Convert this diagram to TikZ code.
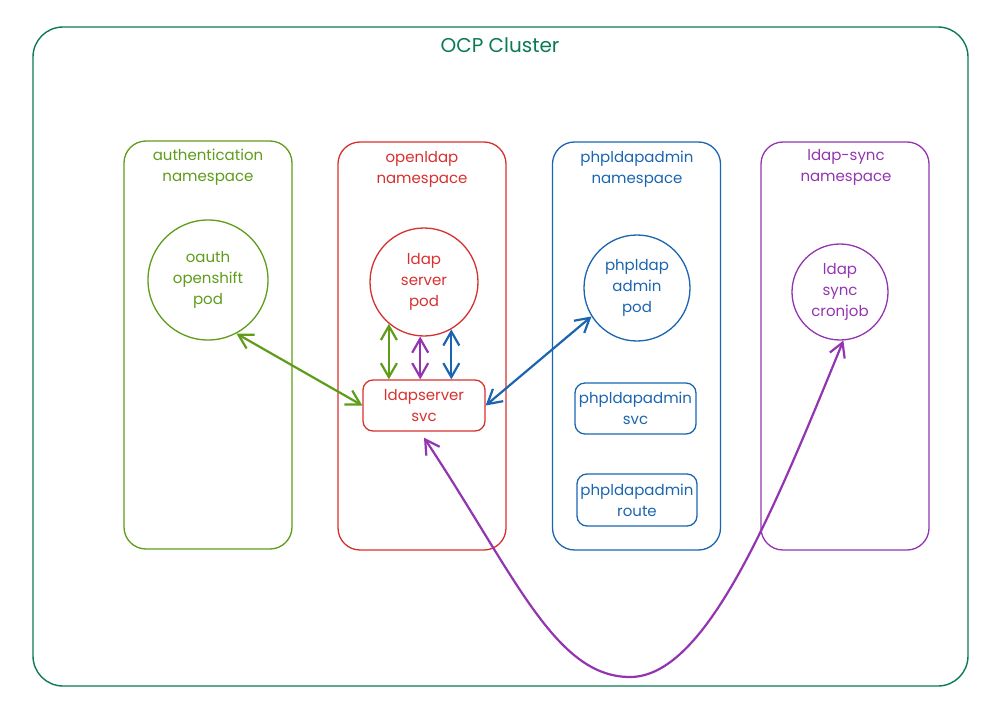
\documentclass[tikz,border=0pt]{standalone}
\usepackage{fontspec}
\setmainfont{Poppins}
\usepackage{tikz}
\usetikzlibrary{positioning}
\usetikzlibrary{arrows.meta}
\definecolor{ocpteal}{HTML}{0B7A56}
\definecolor{authgreen}{HTML}{5E9C1A}
\definecolor{ldapred}{HTML}{D6312F}
\definecolor{adminblue}{HTML}{1B65B0}
\definecolor{syncpurple}{HTML}{9334B0}
\tikzset{
  txt/.style={align=center, font=\fontsize{15}{21}\selectfont},
  nsbox/.style={draw, rounded corners=22pt, minimum width=168pt, minimum height=408pt, line width=1.3pt},
  podcircle/.style={draw, circle, inner sep=0pt, line width=1.3pt, txt},
  svcbox/.style={draw, rounded corners=10pt, minimum width=121pt, minimum height=51pt, inner sep=0pt, line width=1.3pt, txt},
  dblarrow/.style={{Straight Barb[length=14pt,width=16pt]}-{Straight Barb[length=14pt,width=16pt]}, line width=2.2pt}
}

\begin{document}
\begin{tikzpicture}[x=1pt, y=-1pt]

\useasboundingbox (0,0) rectangle (997,709);

% cluster
\node[draw, ocpteal, rounded corners=30pt, minimum width=935pt, minimum height=659pt, line width=1.4pt] (cluster) at (500.5,356.5) {};
\node[ocpteal, font=\fontsize{20}{24}\selectfont] (clustertitle) at (500,45) {OCP Cluster};

%%%namespaces
\node[nsbox, authgreen] (authns) at (208,345) {};
\node[nsbox, ldapred] (ldapns) at (422,346) {};
\node[nsbox, adminblue] (adminns) at (636.5,346) {};
\node[nsbox, syncpurple] (syncns) at (845,346) {};

\node[txt, authgreen] (authtitle) at (208,167) {authentication\\namespace};
\node[txt, ldapred] (ldaptitle) at (422,169) {openldap\\namespace};
\node[txt, adminblue] (admintitle) at (637,169) {phpldapadmin\\namespace};
\node[txt, syncpurple] (synctitle) at (846,167) {ldap-sync\\namespace};

%%%pods
\node[podcircle, authgreen, minimum size=120pt] (oauth) at (208,280) {oauth\\openshift\\pod};
\node[podcircle, ldapred, minimum size=108pt] (ldappod) at (424,282) {ldap\\server\\pod};
\node[podcircle, adminblue, minimum size=106pt] (adminpod) at (637,288) {phpldap\\admin\\pod};
\node[podcircle, syncpurple, minimum size=96pt] (cron) at (840,292) {ldap\\sync\\cronjob};

%%%services
\node[svcbox, ldapred, minimum width=122pt] (ldapsvc) at (424,405.5) {ldapserver\\svc};
\node[svcbox, adminblue] (adminsvc) at (635.5,408.5) {phpldapadmin\\svc};
\node[svcbox, adminblue, minimum width=120pt, minimum height=52pt] (adminroute) at (637,500) {phpldapadmin\\route};

%%%connections
\draw[dblarrow, authgreen] (oauth.-62) -- (ldapsvc.west);
\draw[dblarrow, authgreen] (ldappod.-130) -- (ldappod.-130 |- ldapsvc.north);
\draw[dblarrow, syncpurple] (ldappod.-94) -- (ldappod.-94 |- ldapsvc.north);
\draw[dblarrow, adminblue] (ldappod.-60) -- (ldappod.-60 |- ldapsvc.north);
\draw[dblarrow, adminblue] (ldapsvc.east) -- (adminpod.-148);

\coordinate (dip) at (630,677);
\draw[dblarrow, syncpurple] ([yshift=-6pt]ldapsvc.south) .. controls (515,575) and (555,677) .. (dip)
  .. controls (705,677) and (770,520) .. (cron.-86);

\end{tikzpicture}
\end{document}
